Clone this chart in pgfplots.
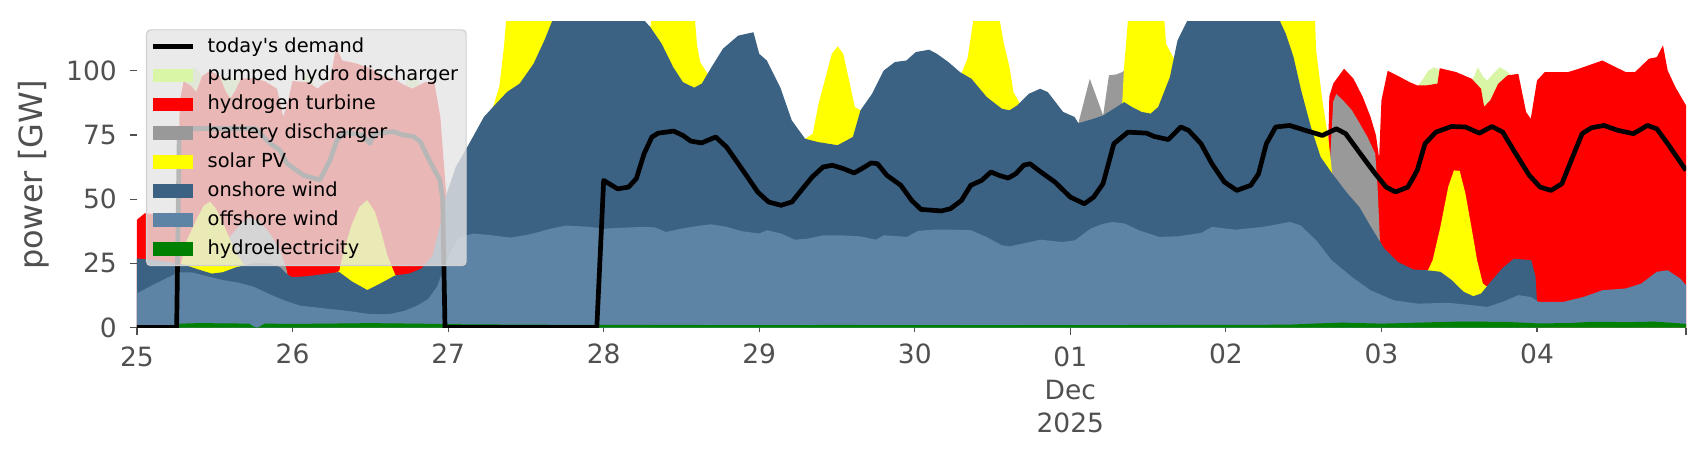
\documentclass[border=0pt]{standalone}
\usepackage{pgfplots}
\pgfplotsset{compat=1.18}
\usepackage{fontspec}
\setmainfont{DejaVu Sans}
\definecolor{phs}{RGB}{217,245,166}
\definecolor{htwo}{RGB}{255,0,0}
\definecolor{batt}{RGB}{153,153,153}
\definecolor{solar}{RGB}{255,255,0}
\definecolor{onw}{RGB}{59,97,131}
\definecolor{offw}{RGB}{93,131,165}
\definecolor{hydro}{RGB}{0,128,0}
\definecolor{txtgray}{RGB}{80,80,80}
\definecolor{legbg}{RGB}{229,229,229}
\definecolor{legedge}{RGB}{208,208,208}
\pgfplotsset{
  patchleg/.style={legend image code/.code={\fill[##1, draw=none, fill opacity=1, sharp corners] (0pt,-3.43pt) rectangle (20pt,3.43pt);}},
  lineleg/.style={legend image code/.code={\draw[##1, draw opacity=1, sharp corners] (0pt,0pt) -- (20pt,0pt);}},
}
\begin{document}
\begin{tikzpicture}
\begin{axis}[
  scale only axis, width=774.5pt, height=152.75pt,
  xmin=0, xmax=9.958, ymin=0, ymax=119,
  axis line style={draw=none},
  tick align=outside, tick pos=left,
  major tick length=3.5pt,
  tick style={color=txtgray, line width=0.6pt},
  ytick={0,25,50,75,100},
  xtick={0,6,9.958},
  xticklabels={25,{01\\Dec\\2025},{}},
  extra x ticks={1,2,3,4,5,7,8,9},
  extra x tick labels={26,27,28,29,30,02,03,04},
  extra x tick style={major tick length=2pt, tick style={color=txtgray, line width=0.6pt}},
  /pgf/number format/assume math mode=true,
  tick label style={font=\fontsize{13.25}{16.6}\selectfont, text=txtgray},
  xticklabel style={align=center, yshift=-2.4pt},
  yticklabel style={xshift=-3.1pt},
  every axis y label/.style={at={(axis description cs:-0.0562,0.5)}, rotate=90, anchor=south, font=\fontsize{16}{19}\selectfont, text=txtgray, inner sep=0pt},
  ylabel={power [GW]},
  legend cell align=left,
  legend style={
    at={(axis description cs:0,1)}, anchor=north west, xshift=4.5pt, yshift=-3.65pt,
    fill=legbg, fill opacity=0.8, draw opacity=1, text opacity=1,
    draw=legedge, line width=0.6pt, rounded corners=2pt,
    font=\fontsize{9.7}{11}\selectfont,
    inner xsep=1.8pt, inner ysep=1.2pt,
    row sep=0pt,
    nodes={inner sep=0pt, text height=9.9pt, text depth=4.53pt},
    /tikz/every odd column/.append style={column sep=4.2pt},
    /tikz/every even column/.append style={nodes={inner xsep=2.2pt}},
  },
]
% ---- legend entries
\addlegendimage{lineleg, black, line width=2.35pt}
\addlegendentry{today\textquotesingle s demand}
\addlegendimage{patchleg, fill=phs}
\addlegendentry{pumped hydro discharger}
\addlegendimage{patchleg, fill=htwo}
\addlegendentry{hydrogen turbine}
\addlegendimage{patchleg, fill=batt}
\addlegendentry{battery discharger}
\addlegendimage{patchleg, fill=solar}
\addlegendentry{solar PV}
\addlegendimage{patchleg, fill=onw}
\addlegendentry{onshore wind}
\addlegendimage{patchleg, fill=offw}
\addlegendentry{offshore wind}
\addlegendimage{patchleg, fill=hydro}
\addlegendentry{hydroelectricity}

% ---- pumped hydro discharger (cumulative top)
\addplot[fill=phs, draw=none, forget plot] coordinates {(0.32,94)(0.345,100)(0.37,101.5)(0.395,100)(0.42,97)} \closedcycle;
\addplot[fill=phs, draw=none, forget plot] coordinates {(0.53,97)(0.57,97.5)(0.6,97)(0.63,97)(0.67,96)} \closedcycle;
\addplot[fill=phs, draw=none, forget plot] coordinates {(1.06,95)(1.09,99)(1.12,97)(1.15,93)} \closedcycle;
\addplot[fill=phs, draw=none, forget plot] coordinates {(1.72,94)(1.75,98)(1.8,97)(1.83,93)} \closedcycle;
\addplot[fill=phs, draw=none, forget plot] coordinates {(8.22,93)(8.27,97)(8.3,100)(8.34,101.4)(8.38,100)} \closedcycle;
\addplot[fill=phs, draw=none, forget plot] coordinates {(8.57,96)(8.59,97)(8.62,101.4)(8.65,98)(8.68,96.2)(8.72,99)(8.76,101.4)(8.8,100)(8.84,98)} \closedcycle;

% ---- hydrogen turbine (cumulative top)
\addplot[fill=htwo, draw=none, forget plot] coordinates {(0,42)(0.05,44.5)(0.15,44)(0.26,43.5)(0.275,88)(0.3,96)(0.35,94)(0.38,91.7)(0.42,98)(0.47,100)(0.53,98)(0.57,92)(0.6,89.2)(0.63,92)(0.67,97)(0.75,97)(0.82,96)(0.9,93)(0.94,82)(0.97,88)(1.0,96)(1.1,95.5)(1.16,93)(1.2,95)(1.24,96)(1.28,109)(1.32,104)(1.4,103)(1.5,101)(1.58,98)(1.65,97)(1.7,95)(1.77,93)(1.85,95.5)(1.91,96)(1.95,82)(1.97,66)(1.99,50)} \closedcycle;
\addplot[fill=htwo, draw=none, forget plot] coordinates {(7.65,60)(7.655,62)(7.665,90)(7.69,95)(7.72,97.5)(7.76,100.8)(7.82,96.9)(7.88,89.8)(7.93,82)(7.965,74.8)(7.985,66)(8.0,88.5)(8.04,100)(8.1,98.2)(8.18,95.6)(8.23,94.3)(8.29,94.3)(8.36,95)(8.375,101)(8.48,99.5)(8.58,96.9)(8.64,93)(8.66,86)(8.7,88.5)(8.75,94.9)(8.81,98.2)(8.88,98.8)(8.93,83.9)(8.96,81.3)(9.0,96.2)(9.05,99.5)(9.2,99.5)(9.27,100.8)(9.42,104)(9.57,99.5)(9.63,99.5)(9.72,104.7)(9.77,105.3)(9.81,109.9)(9.84,100.1)(9.89,93.6)(9.958,86.5)} \closedcycle;

% ---- battery discharger (cumulative top)
\addplot[fill=batt, draw=none, forget plot] coordinates {(0.58,34)(0.62,37)(0.67,40.5)(0.72,43)(0.79,41.2)(0.855,36.6)(0.92,30)(0.96,23)(0.97,20)} \closedcycle;
\addplot[fill=batt, draw=none, forget plot] coordinates {(6.05,79)(6.052,79.6)(6.125,96.9)(6.211,82.6)(6.248,98.2)(6.297,98.6)(6.334,99.5)(6.345,100)} \closedcycle;
\addplot[fill=batt, draw=none, forget plot] coordinates {(7.665,60)(7.69,88)(7.71,91)(7.76,88)(7.81,84.6)(7.86,79.5)(7.91,74.2)(7.96,67.7)(7.975,55)(7.99,34)(8.0,30)} \closedcycle;

% ---- solar PV (cumulative top)
\addplot[fill=solar, draw=none, forget plot] coordinates {(0.27,24)(0.28,24.3)(0.32,34)(0.36,39)(0.39,43)(0.43,47.5)(0.47,49)(0.51,46)(0.555,40.5)(0.6,34)(0.64,29)(0.68,25)(0.7,24)} \closedcycle;
\addplot[fill=solar, draw=none, forget plot] coordinates {(1.27,21)(1.3,22)(1.33,30)(1.38,40)(1.43,47)(1.48,49.6)(1.53,45)(1.57,37)(1.61,28)(1.66,20.5)(1.68,20)} \closedcycle;
\addplot[fill=solar, draw=none, forget plot] coordinates {(2.28,85)(2.29,86)(2.33,94)(2.36,110)(2.38,125)(2.6,130)(2.7,125)(2.72,123)} \closedcycle;
\addplot[fill=solar, draw=none, forget plot] coordinates {(3.29,116)(3.30,117)(3.32,125)(3.58,125)(3.60,110)(3.62,103.4)(3.668,98.8)(3.68,98)} \closedcycle;
\addplot[fill=solar, draw=none, forget plot] coordinates {(4.28,73)(4.295,73.5)(4.344,75.5)(4.381,87)(4.43,98.2)(4.467,106.6)(4.504,109.5)(4.54,106.6)(4.578,96.2)(4.614,85.9)(4.651,84.6)(4.66,85)} \closedcycle;
\addplot[fill=solar, draw=none, forget plot] coordinates {(5.29,99)(5.302,99.2)(5.339,104.7)(5.376,119.5)(5.40,125)(5.53,125)(5.548,119)(5.573,110.5)(5.609,101.4)(5.634,91.7)(5.671,87.7)(5.68,87)} \closedcycle;
\addplot[fill=solar, draw=none, forget plot] coordinates {(6.33,87)(6.334,87.8)(6.345,101)(6.37,119.5)(6.39,125)(6.6,125)(6.605,119)(6.615,110.5)(6.665,104.8)(6.67,104)} \closedcycle;
\addplot[fill=solar, draw=none, forget plot] coordinates {(7.33,120)(7.335,121)(7.34,125)(7.57,125)(7.58,108)(7.62,88.5)(7.66,72.9)(7.683,60)(7.69,59)} \closedcycle;
\addplot[fill=solar, draw=none, forget plot] coordinates {(8.29,22)(8.30,22.4)(8.329,26.2)(8.379,39.2)(8.429,54.7)(8.466,61.2)(8.503,61)(8.54,52.1)(8.578,39.2)(8.615,26.2)(8.652,17.1)(8.677,16)(8.69,16)} \closedcycle;

% ---- onshore wind (cumulative top)
\addplot[fill=onw, draw=none, forget plot] coordinates {(0,26.9)(0.1,26.3)(0.2,25.5)(0.3,24.5)(0.4,22.5)(0.48,21)(0.55,21.5)(0.64,23.5)(0.75,25)(0.85,25)(0.92,23.5)(0.97,20.5)(1.0,19.6)(1.1,20)(1.2,20.8)(1.3,21.6)(1.38,18)(1.48,14.6)(1.56,17)(1.66,20.3)(1.75,21)(1.83,23)(1.9,28)(1.95,40)(1.99,52)(2.05,62.6)(2.13,71)(2.23,82)(2.29,86)(2.38,91.8)(2.46,95)(2.55,102.8)(2.62,112)(2.68,121)(2.8,135)(3.0,140)(3.2,130)(3.24,121)(3.263,119.5)(3.30,117)(3.373,110.5)(3.447,101.4)(3.509,95.6)(3.582,93.4)(3.631,95)(3.693,101.4)(3.767,108.6)(3.865,113.7)(3.963,115)(4.0,106.6)(4.049,104)(4.135,93.6)(4.209,80.7)(4.295,73.5)(4.381,72.2)(4.504,71)(4.602,74.2)(4.651,84.6)(4.725,91)(4.799,100)(4.872,103.4)(4.946,104)(5.007,107.3)(5.093,108.2)(5.142,106.6)(5.216,103.4)(5.29,99.5)(5.364,96.9)(5.462,89.8)(5.56,85.2)(5.609,84.6)(5.658,86.5)(5.732,91)(5.806,93)(5.855,91.7)(5.953,84)(6.027,82)(6.052,79.6)(6.15,81.3)(6.211,82.6)(6.297,85.9)(6.346,87.8)(6.396,85.9)(6.457,84)(6.516,83.3)(6.565,85.9)(6.64,97.5)(6.689,111.8)(6.752,119.5)(6.9,135)(7.1,135)(7.3,125)(7.335,121)(7.385,114.4)(7.435,105.3)(7.484,92.3)(7.547,78)(7.609,66.4)(7.683,60)(7.783,52.1)(7.857,47)(7.932,39.2)(8.019,30.7)(8.106,25.5)(8.205,22.6)(8.292,22.3)(8.379,21.7)(8.453,18.4)(8.528,13.9)(8.59,12.2)(8.64,13.2)(8.702,17.8)(8.776,23)(8.851,26.8)(8.963,26.2)(8.99,20)(9.0,10)} \closedcycle;

% ---- offshore wind (cumulative top)
\addplot[fill=offw, draw=none, forget plot] coordinates {(0,13.3)(0.1,16.5)(0.2,19.5)(0.27,21.5)(0.35,21.5)(0.45,20)(0.55,18.5)(0.65,17.5)(0.75,15.9)(0.85,13)(0.95,10.5)(1.05,8.5)(1.2,7.5)(1.35,6.5)(1.5,5.2)(1.62,5.2)(1.72,6.5)(1.8,8.5)(1.87,11)(1.93,16)(1.97,23)(2.01,29)(2.07,35)(2.16,36.6)(2.27,36)(2.4,35)(2.5,36)(2.59,37.3)(2.66,38.5)(2.76,39.7)(2.91,39.2)(3.0,38.5)(3.1,38.8)(3.25,39.2)(3.33,39)(3.4,37.2)(3.5,38.5)(3.6,39.5)(3.69,40.2)(3.79,39.2)(3.89,37.5)(4.0,36.6)(4.05,37.9)(4.14,36.6)(4.23,34.2)(4.31,34.6)(4.41,35.9)(4.53,35.9)(4.65,35.5)(4.75,34.2)(4.8,35.9)(4.95,35.3)(5.02,37.6)(5.12,38.1)(5.24,38.1)(5.36,37.9)(5.46,35.3)(5.56,32)(5.61,31.6)(5.71,32.9)(5.81,34.2)(5.95,33.3)(6.03,34)(6.13,38.5)(6.2,40.2)(6.27,41.1)(6.35,40.5)(6.44,37.9)(6.57,35.3)(6.69,35.5)(6.84,36.8)(6.91,39.2)(7.06,38.1)(7.24,39.2)(7.41,41.1)(7.48,39.8)(7.58,34)(7.68,26.2)(7.81,19.7)(7.93,14.5)(8.08,10.6)(8.23,9.3)(8.43,9.6)(8.58,8.7)(8.68,8)(8.78,10)(8.88,12.6)(8.96,11.9)(9.01,10)(9.17,10)(9.3,11.9)(9.42,14.5)(9.57,15.2)(9.67,17.1)(9.77,21.7)(9.84,22.3)(9.92,19.1)(9.958,16.5)} \closedcycle;

% ---- hydroelectricity
\addplot[fill=hydro, draw=none, forget plot] coordinates {(0,0.3)(0.25,0.3)(0.28,1.5)(0.4,1.7)(0.6,1.6)(0.72,1.5)(0.75,0.4)(0.77,0)(0.79,0.4)(0.82,1.5)(1.0,1.4)(1.2,1.5)(1.5,1.7)(1.8,1.5)(2.0,1.3)(2.5,1.1)(3.0,1.0)(3.5,1.0)(4.0,0.9)(4.5,1.0)(5.0,0.9)(5.5,0.9)(6.0,0.9)(6.5,1.0)(7.0,1.0)(7.4,1.1)(7.6,1.6)(7.75,1.9)(8.0,1.5)(8.3,2.0)(8.5,2.3)(8.8,2.2)(9.0,1.6)(9.2,1.7)(9.35,2.2)(9.6,2.1)(9.75,2.3)(9.85,1.9)(9.958,1.4)} \closedcycle;

% ---- today's demand
\addplot[black, line width=2.35pt, line join=round, forget plot] coordinates {(0,0)(0.255,0)(0.272,77.5)(0.76,77.5)(0.855,71.7)(0.92,69)(0.962,64)(1.07,59.3)(1.176,57.5)(1.24,65)(1.283,72.6)(1.326,76)(1.45,75)(1.475,73)(1.497,71.7)(1.52,75.5)(1.647,76.3)(1.71,75)(1.776,74.4)(1.82,72.5)(1.88,65)(1.947,57.5)(1.965,50)(1.98,0)(2.956,0)(3.0,57.3)(3.09,54)(3.16,54.7)(3.21,58)(3.26,67.7)(3.31,74.2)(3.35,75.7)(3.45,76.5)(3.51,74.8)(3.56,72.6)(3.63,71.9)(3.72,74.2)(3.79,70.3)(3.91,59.9)(3.99,52.8)(4.06,48.9)(4.14,47.6)(4.21,48.9)(4.27,53.4)(4.34,58.6)(4.41,62.5)(4.47,63.2)(4.54,61.9)(4.61,60.2)(4.66,61.9)(4.72,64.1)(4.76,63.8)(4.82,59.3)(4.91,55.4)(4.98,49.5)(5.04,46)(5.17,45.4)(5.23,46.3)(5.3,49.5)(5.36,55.4)(5.43,57.3)(5.49,60.6)(5.54,59.3)(5.6,58.2)(5.65,59.9)(5.7,63.2)(5.74,63.8)(5.81,60.6)(5.9,56.7)(6.0,50.8)(6.09,48.2)(6.15,50.8)(6.21,56)(6.28,71.6)(6.37,76.1)(6.49,75.7)(6.54,74.4)(6.63,73.2)(6.71,78.1)(6.76,76.8)(6.84,71.6)(6.91,63.8)(6.99,56.7)(7.07,53.4)(7.16,55.4)(7.21,59.9)(7.26,71.6)(7.32,78.1)(7.41,78.7)(7.51,76.8)(7.62,74.8)(7.71,77.4)(7.77,75.5)(7.88,66.4)(7.96,59.9)(8.03,54.7)(8.09,52.8)(8.17,54.7)(8.23,61.2)(8.28,71.6)(8.35,76.1)(8.45,78.3)(8.54,78.1)(8.63,75.7)(8.71,78.3)(8.78,76.1)(8.85,69)(8.95,59.3)(9.02,54.7)(9.09,53.4)(9.16,56)(9.22,65.1)(9.29,75.5)(9.35,77.8)(9.43,78.7)(9.52,76.8)(9.62,75.5)(9.71,78.7)(9.77,77.4)(9.84,71.6)(9.958,61.2)};

\coordinate (O) at (rel axis cs:0,0);
\end{axis}
\path (O) ++(-68.5pt,-66.25pt) rectangle ++(853pt,230pt);
\end{tikzpicture}
\end{document}
